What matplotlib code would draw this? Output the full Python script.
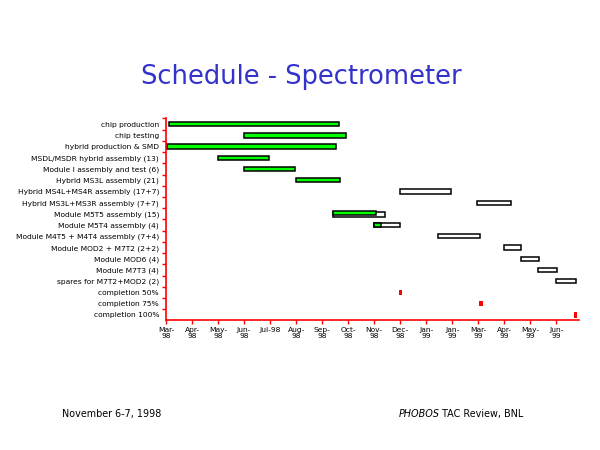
import datetime as dt
import matplotlib
matplotlib.use("Agg")
import matplotlib.pyplot as plt
import matplotlib.dates as mdates

tasks = ["chip production", "chip testing", "hybrid production & SMD",
         "MSDL/MSDR hybrid assembly (13)", "Module I assembly and test (6)",
         "Hybrid MS3L assembly (21)", "Hybrid MS4L+MS4R assembly (17+7)",
         "Hybrid MS3L+MS3R assembly (7+7)", "Module M5T5 assembly (15)",
         "Module M5T4 assembly (4)", "Module M4T5 + M4T4 assembly (7+4)",
         "Module MOD2 + M7T2 (2+2)", "Module MOD6 (4)", "Module M7T3 (4)",
         "spares for M7T2+MOD2 (2)", "completion 50%", "completion 75%",
         "completion 100%"]

# planned (open) bars
plan_rows = [6, 7, 8, 9, 10, 11, 12, 13, 14]
plan_start = ["1998-12-02", "1999-02-28", "1998-09-16", "1998-11-02", "1999-01-14",
              "1999-03-31", "1999-04-20", "1999-05-10", "1999-05-31"]
plan_end = ["1999-01-30", "1999-04-09", "1998-11-14", "1998-12-02", "1999-03-04",
            "1999-04-20", "1999-05-11", "1999-06-01", "1999-06-22"]

# done (green) bars
done_rows = [0, 1, 2, 3, 4, 5, 8, 9]
done_start = ["1998-03-10", "1998-06-05", "1998-03-08", "1998-05-06", "1998-06-05",
              "1998-08-04", "1998-09-15", "1998-11-02"]
done_end = ["1998-09-22", "1998-10-01", "1998-09-19", "1998-07-04", "1998-08-03",
            "1998-09-24", "1998-11-04", "1998-11-10"]

# milestones
ms_rows = [15, 16, 17]
ms_dates = ["1998-12-02", "1999-03-05", "1999-06-22"]

tick_labels = ["Mar-\n98", "Apr-\n98", "May-\n98", "Jun-\n98", "Jul-98", "Aug-\n98",
               "Sep-\n98", "Oct-\n98", "Nov-\n98", "Dec-\n98", "Jan-\n99", "Jan-\n99",
               "Mar-\n99", "Apr-\n99", "May-\n99", "Jun-\n99"]
axis_start = dt.date(1998, 3, 7)


def num(s):
    return mdates.date2num(dt.date.fromisoformat(s))


fig = plt.figure(figsize=(6, 4.5), dpi=100)
ax = fig.add_axes([0.2767, 0.2878, 0.6883, 0.4489])

for r, s, e in zip(plan_rows, plan_start, plan_end):
    off = 0.06 if r == 8 else 0
    ax.barh(r + off, num(e) - num(s), left=num(s), height=0.38,
            color="white", edgecolor="black", linewidth=1.1)
for r, s, e in zip(done_rows, done_start, done_end):
    off = -0.1 if r == 8 else 0
    ax.barh(r + off, num(e) - num(s), left=num(s), height=0.36 if r == 8 else 0.4,
            color="#00ff00", edgecolor="black", linewidth=1.1)
for r, d in zip(ms_rows, ms_dates):
    ax.barh(r, 4, left=num(d) - 2, height=0.5, color="red", linewidth=0)

ax.set_ylim(len(tasks) - 0.5, -0.5)
ax.set_yticks([i - 0.5 for i in range(len(tasks))])
ax.set_yticklabels([])
ax.set_yticks(range(len(tasks)), minor=True)
ax.set_yticklabels(tasks, minor=True, fontsize=5.4)
ax.tick_params(axis="y", which="major", length=3, width=1, color="red")
ax.tick_params(axis="y", which="minor", length=0, pad=5)

start = mdates.date2num(axis_start)
ax.set_xlim(start, start + 476)
ax.set_xticks([start + 30 * i for i in range(len(tick_labels))])
ax.set_xticklabels(tick_labels, fontsize=5.4, linespacing=1.0)
ax.tick_params(axis="x", length=3, width=1, color="red", pad=2)

for side in ["top", "right"]:
    ax.spines[side].set_visible(False)
for side in ["left", "bottom"]:
    ax.spines[side].set_color("red")
    ax.spines[side].set_linewidth(1.2)

fig.text(0.502, 0.83, "Schedule - Spectrometer", color="#3333cc", fontsize=18.5,
         ha="center", va="center")
fig.text(0.103, 0.08, "November 6-7, 1998", fontsize=6.9, ha="left", va="center")
fig.text(0.664, 0.08, "PHOBOS", fontsize=6.9, style="italic", ha="left", va="center")
fig.text(0.736, 0.08, "TAC Review, BNL", fontsize=6.9, ha="left", va="center")

fig.savefig("out.png", dpi=100)
